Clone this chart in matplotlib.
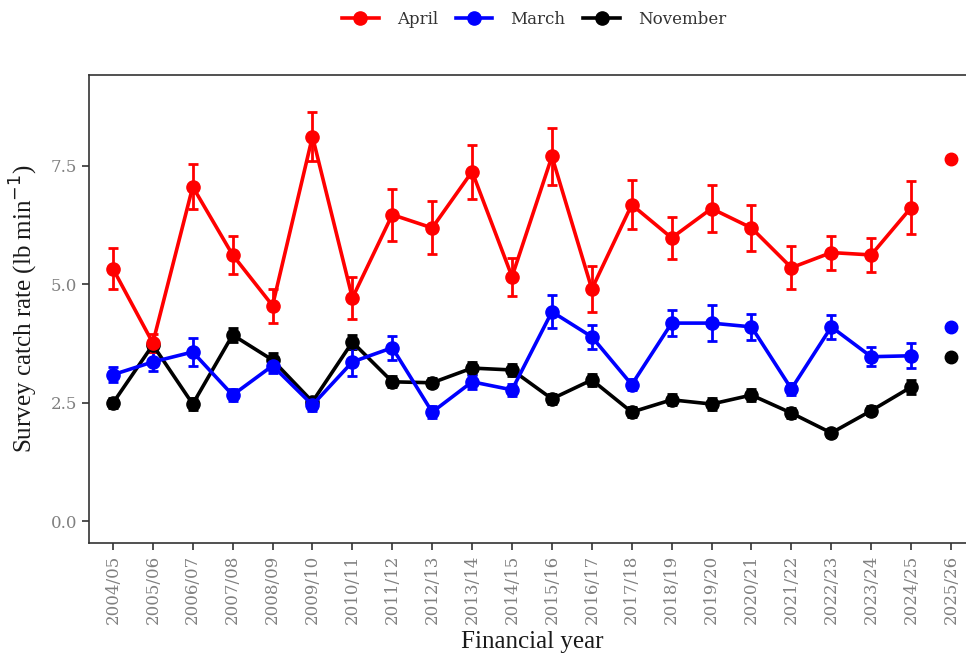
import numpy as np
import matplotlib
matplotlib.use("Agg")
import matplotlib.pyplot as plt
from matplotlib.lines import Line2D

plt.rcParams['font.family'] = ['Liberation Serif', 'DejaVu Serif']

years = ["2004/05", "2005/06", "2006/07", "2007/08", "2008/09", "2009/10",
         "2010/11", "2011/12", "2012/13", "2013/14", "2014/15", "2015/16",
         "2016/17", "2017/18", "2018/19", "2019/20", "2020/21", "2021/22",
         "2022/23", "2023/24", "2024/25", "2025/26"]

# survey means 2004/05 - 2024/25, last value is the single 2025/26 point
april = [5.33, 3.76, 7.06, 5.62, 4.55, 8.12, 4.71, 6.47, 6.19, 7.38, 5.16,
         7.70, 4.90, 6.68, 5.98, 6.60, 6.19, 5.35, 5.67, 5.62, 6.62]
april_err = [0.44, 0.20, 0.48, 0.41, 0.36, 0.51, 0.45, 0.55, 0.56, 0.57, 0.40,
             0.60, 0.48, 0.52, 0.45, 0.50, 0.49, 0.45, 0.36, 0.36, 0.56]
april_new = 7.65

march = [3.09, 3.36, 3.57, 2.66, 3.28, 2.45, 3.36, 3.66, 2.30, 2.94, 2.77,
         4.42, 3.89, 2.88, 4.18, 4.18, 4.10, 2.79, 4.10, 3.47, 3.49]
march_err = [0.16, 0.20, 0.29, 0.12, 0.15, 0.12, 0.30, 0.25, 0.12, 0.15, 0.12,
             0.35, 0.25, 0.12, 0.27, 0.38, 0.28, 0.12, 0.25, 0.20, 0.26]
march_new = 4.10

november = [2.49, 3.72, 2.47, 3.93, 3.40, 2.52, 3.78, 2.94, 2.92, 3.23, 3.19,
            2.58, 2.98, 2.30, 2.56, 2.47, 2.66, 2.28, 1.86, 2.33, 2.83]
november_err = [0.10, 0.10, 0.12, 0.15, 0.15, 0.10, 0.15, 0.12, 0.10, 0.12, 0.12,
                0.10, 0.12, 0.10, 0.12, 0.12, 0.12, 0.10, 0.08, 0.10, 0.15]
november_new = 3.47

fig = plt.figure(figsize=(9.66, 6.54), dpi=100)
ax = fig.add_axes([0.0921, 0.1697, 0.9172, 0.7156])

x = np.arange(len(years))
series = [("April", april, april_err, april_new, "#ff0000"),
          ("March", march, march_err, march_new, "#0000ff"),
          ("November", november, november_err, november_new, "#000000")]

for name, vals, err, new, col in series[::-1]:
    ax.errorbar(x[:len(vals)], vals, yerr=err, color=col, lw=2.6, marker='o',
                ms=9.5, capsize=3.5, capthick=2, elinewidth=2, zorder=3)
    ax.plot(x[len(vals)], new, 'o', color=col, ms=9, zorder=3)

ax.set_xlim(-0.6, len(years) - 1 + 0.6)
ax.set_ylim(-0.465, 9.42)
ax.set_yticks([0, 2.5, 5, 7.5])
ax.set_yticklabels(["0.0", "2.5", "5.0", "7.5"])
ax.set_xticks(x)
ax.set_xticklabels(years, rotation=90)

ax.tick_params(colors="#333333", labelcolor="#808080", length=5, width=1.2,
               labelsize=12)
for lab in ax.get_xticklabels() + ax.get_yticklabels():
    lab.set_family("DejaVu Serif")
for s in ax.spines.values():
    s.set_color("#333333")
    s.set_linewidth(1.2)

ax.set_xlabel("Financial year", fontsize=18, color="#1a1a1a", labelpad=5)
ax.set_ylabel("Survey catch rate (lb min$^{-1}$)", fontsize=18, color="#1a1a1a",
              labelpad=8)

handles = [Line2D([], [], color=c, lw=2.6, marker='o', ms=9.5) for _, _, _, _, c in series]
fig.legend(handles, [s[0] for s in series], loc="center",
           bbox_to_anchor=(0.553, 0.97), ncol=3, frameon=False,
           prop={"family": "DejaVu Serif", "size": 12},
           handlelength=2.2, handletextpad=1.08, columnspacing=1.08,
           labelcolor="#333333")

fig.savefig("out.png", dpi=100)
